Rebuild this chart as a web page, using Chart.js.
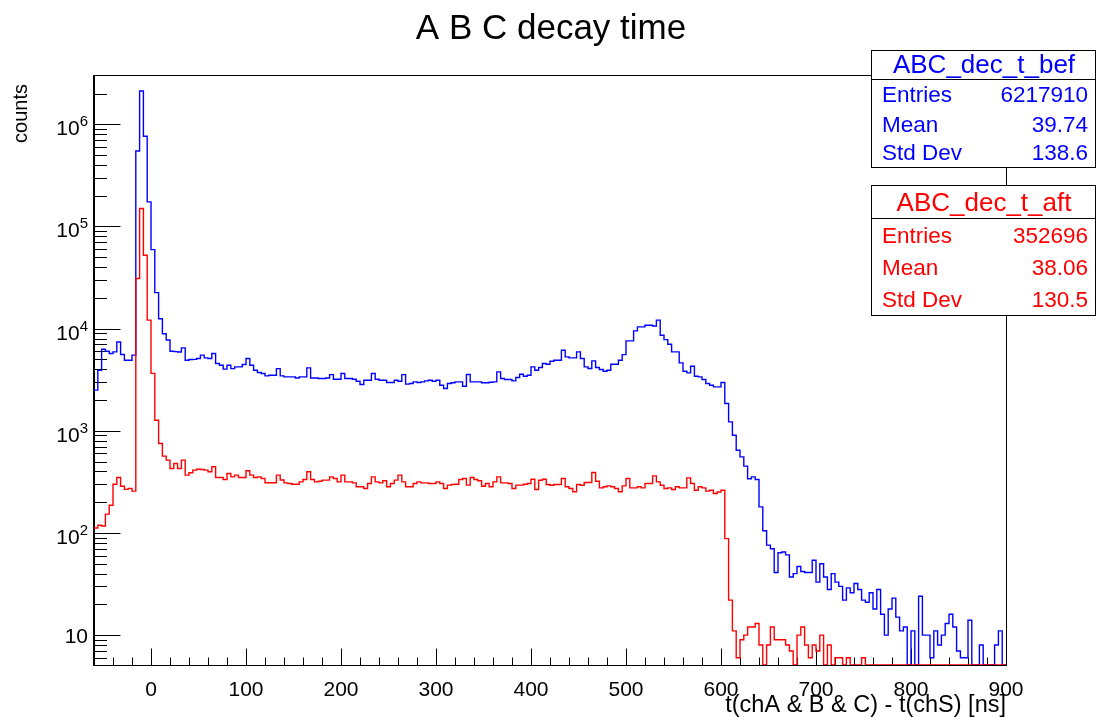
<!DOCTYPE html>
<html>
<head>
<meta charset="utf-8">
<script src="https://cdn.jsdelivr.net/npm/chart.js@4/dist/chart.umd.min.js"></script>
<style>
  html, body { margin: 0; padding: 0; background: #ffffff; }
  #plot { display: block; }
</style>
</head>
<body>
<canvas id="plot" width="1096" height="717" style="width:1096px;height:717px"></canvas>
<script>
// Histogram binning: 240 bins of 4 ns from -60 to 900 ns
const xMin = -60;
const xMax = 900;
const binWidth = 4;

// Log-scale y range of the frame
const yMin = 5.1;
const yMax = 2.97e6;

// Bin contents, "before" selection (blue)
const countsBefore = [
  2500, 3900, 6290, 6010, 5710, 5920, 7410, 5580, 4910, 4910,
  5500, 548000, 2120000, 763000, 174000, 59400, 22500, 12500, 8900, 7750,
  6000, 5950, 5900, 6480, 4900, 4980, 5000, 5100, 5500, 5170,
  5100, 5710, 4550, 4380, 4010, 4380, 4060, 4220, 4220, 4450,
  5100, 4380, 3920, 3720, 3640, 3445, 3500, 3500, 4060, 3445,
  3370, 3370, 3370, 3290, 3370, 3370, 4130, 3290, 3290, 3250,
  3250, 3290, 3550, 3200, 3200, 3640, 3250, 3250, 3200, 3055,
  2835, 3125, 3125, 3640, 3200, 3125, 3125, 2965, 2965, 3125,
  3055, 3550, 2860, 2900, 3015, 2970, 3015, 3080, 3125, 3050,
  3125, 2795, 2590, 2900, 2950, 3015, 3015, 2730, 3555, 3015,
  3015, 3015, 2950, 2950, 2990, 3015, 3775, 3245, 3175, 3175,
  3080, 3320, 3580, 3420, 3500, 4220, 3920, 4160, 4550, 4485,
  4800, 4910, 4910, 6150, 5290, 5170, 5170, 5920, 5100, 4220,
  4065, 4830, 4160, 3975, 3830, 3920, 4485, 4485, 4910, 5570,
  7590, 7590, 9510, 10400, 10400, 10800, 10800, 10600, 12100, 8620,
  7810, 7030, 5920, 5920, 4620, 3830, 3690, 4290, 3420, 3370,
  3180, 2900, 2790, 2690, 2690, 2970, 1848, 1222, 905, 646,
  556, 451, 339, 354, 334, 180, 105, 76, 70, 41,
  64, 65, 61, 37, 40, 47, 42, 41, 41, 54,
  33, 50, 37, 28, 40, 33, 30, 22, 29, 26,
  32, 28, 22, 21, 26, 18, 28, 16, 10, 18,
  23, 15, 11, 12, 0, 11, 0, 24, 10, 10,
  6, 11, 8, 10, 13, 16, 12, 7, 6, 6,
  14, 0, 0, 8, 0, 0, 0, 8, 11, 0
];

// Bin contents, "after" selection (red)
const countsAfter = [
  112, 119, 117, 153, 187, 300, 349, 287, 267, 273,
  257, 30900, 150000, 52300, 12100, 3650, 1270, 752, 565, 516,
  428, 479, 428, 516, 368, 388, 412, 421, 418, 412,
  397, 444, 349, 349, 334, 382, 354, 368, 349, 349,
  406, 368, 349, 354, 341, 310, 310, 310, 368, 330,
  309, 305, 300, 300, 316, 334, 397, 334, 316, 321,
  329, 329, 354, 341, 316, 368, 316, 316, 309, 283,
  283, 272, 305, 354, 316, 309, 324, 283, 305, 329,
  368, 316, 283, 283, 305, 316, 309, 309, 305, 305,
  316, 305, 272, 294, 298, 300, 334, 341, 294, 349,
  334, 324, 287, 305, 283, 316, 354, 309, 309, 305,
  272, 294, 294, 300, 305, 336, 266, 328, 336, 298,
  293, 298, 298, 341, 283, 272, 253, 298, 293, 312,
  312, 390, 321, 276, 283, 289, 283, 272, 253, 289,
  341, 276, 276, 283, 276, 305, 305, 362, 316, 293,
  272, 276, 266, 283, 276, 276, 346, 305, 262, 283,
  276, 257, 262, 243, 252, 262, 88, 22, 11, 6,
  9, 10, 12, 12, 13, 8, 0, 8, 12, 9,
  9, 9, 8, 7, 0, 10, 12, 8, 6, 8,
  7, 10, 0, 8, 0, 6, 6, 0, 6, 0,
  0, 0, 6, 0, 0, 0, 0, 0, 0, 0,
  0, 0, 0, 0, 0, 0, 0, 0, 0, 0,
  0, 0, 0, 0, 0, 0, 0, 0, 0, 0,
  0, 0, 0, 0, 0, 0, 0, 0, 0, 0
];

// Axis labelling
const xTickLabels = [0, 100, 200, 300, 400, 500, 600, 700, 800, 900];
const xMinorStep = 20;
const yDecadeExponents = [1, 2, 3, 4, 5, 6];

// Statistics boxes
const statRowNames = ['Entries', 'Mean', 'Std Dev'];
const statsBefore = ['6217910', '39.74', '138.6'];
const statsAfter = ['352696', '38.06', '130.5'];
const histNames = ['ABC_dec_t_bef', 'ABC_dec_t_aft'];

const chartTitle = 'A B C decay time';
const xTitle = 't(chA & B & C) - t(chS) [ns]';
const yTitle = 'counts';

const BLUE = '#0000ff';
const RED = '#ff0000';
const FONT = '"Liberation Sans", Arial, Helvetica, sans-serif';

// Step outline points: each bin's left edge carries its content, closed at the upper edge.
// Empty bins sit on the frame bottom, as in a log-y histogram outline.
function outline(counts) {
  const pts = counts.map((c, i) => ({ x: xMin + i * binWidth, y: Math.max(c, yMin) }));
  pts.push({ x: xMin + counts.length * binWidth, y: Math.max(counts[counts.length - 1], yMin) });
  return pts;
}

const frameAndAxes = {
  id: 'frameAndAxes',
  beforeDatasetsDraw(chart) {
    const { ctx, chartArea: a, scales: { x, y } } = chart;
    ctx.save();
    ctx.strokeStyle = '#000';
    ctx.lineWidth = 1;
    const L = a.left - 0.5, R = a.right + 0.5, T = a.top - 0.5, B = a.bottom + 0.5;
    ctx.strokeRect(L, T, R - L, B - T);
    // second pixel on the y axis line
    ctx.beginPath(); ctx.moveTo(L + 1, T); ctx.lineTo(L + 1, B); ctx.stroke();

    // x ticks, inside the frame
    ctx.beginPath();
    for (let v = xMin + xMinorStep; v <= xMax; v += xMinorStep) {
      const px = Math.round(x.getPixelForValue(v)) + 0.5;
      const len = (v % 100 === 0) ? 17 : 8;
      ctx.moveTo(px, B); ctx.lineTo(px, B - len);
    }
    ctx.stroke();

    // y ticks, log decades with 2..9 subdivisions
    ctx.beginPath();
    for (let k = 0; k <= 7; k++) {
      for (let m = 1; m <= 9; m++) {
        const v = m * Math.pow(10, k);
        if (v < yMin || v > yMax) continue;
        const py = Math.round(y.getPixelForValue(v)) + 0.5;
        const len = (m === 1) ? 27 : 13.5;
        ctx.moveTo(L, py); ctx.lineTo(L + len, py);
      }
    }
    ctx.stroke();
    ctx.restore();
  },
  afterDraw(chart) {
    const { ctx, chartArea: a, scales: { x, y } } = chart;
    ctx.save();
    ctx.fillStyle = '#000';

    // x tick labels
    ctx.font = '21px ' + FONT;
    ctx.textAlign = 'center';
    ctx.textBaseline = 'alphabetic';
    xTickLabels.forEach(v => {
      ctx.fillText(String(v), x.getPixelForValue(v), 696);
    });

    // y tick labels: 10 and 10^k
    const labelRight = 88;
    yDecadeExponents.forEach(k => {
      const py = y.getPixelForValue(Math.pow(10, k));
      ctx.textAlign = 'right';
      if (k === 1) {
        ctx.font = '21px ' + FONT;
        ctx.fillText('10', labelRight, py + 8);
      } else {
        ctx.font = '15px ' + FONT;
        const e = String(k);
        const w = ctx.measureText(e).width;
        ctx.fillText(e, labelRight, py + 2);
        ctx.font = '21px ' + FONT;
        ctx.fillText('10', labelRight - w, py + 11);
      }
    });

    // axis titles
    ctx.font = '23.5px ' + FONT;
    ctx.textAlign = 'right';
    ctx.fillText(xTitle, a.right, 712);
    ctx.save();
    ctx.translate(27, 84);
    ctx.rotate(-Math.PI / 2);
    ctx.font = '20px ' + FONT;
    ctx.textAlign = 'right';
    ctx.fillText(yTitle, 0, 0);
    ctx.restore();

    // main title
    ctx.font = '35px ' + FONT;
    ctx.textAlign = 'center';
    ctx.fillText(chartTitle, 551, 39);

    // statistics boxes
    const boxes = [
      { name: histNames[0], vals: statsBefore, color: BLUE, top: 50.5, sep: 79.5, bottom: 167.5, titleY: 73, rows: [102, 132, 160] },
      { name: histNames[1], vals: statsAfter, color: RED, top: 185.5, sep: 218.5, bottom: 315.5, titleY: 211, rows: [243, 275, 307] }
    ];
    const bl = 871.5, br = 1095.5;
    boxes.forEach(b => {
      ctx.fillStyle = '#fff';
      ctx.fillRect(bl, b.top, br - bl, b.bottom - b.top);
      ctx.strokeStyle = '#000';
      ctx.lineWidth = 1;
      ctx.strokeRect(bl, b.top, br - bl, b.bottom - b.top);
      ctx.beginPath(); ctx.moveTo(bl, b.sep); ctx.lineTo(br, b.sep); ctx.stroke();
      ctx.fillStyle = b.color;
      ctx.font = '26px ' + FONT;
      ctx.textAlign = 'center';
      ctx.fillText(b.name, 984, b.titleY);
      ctx.font = '22.5px ' + FONT;
      statRowNames.forEach((n, i) => {
        ctx.textAlign = 'left';
        ctx.fillText(n, 882, b.rows[i]);
        ctx.textAlign = 'right';
        ctx.fillText(b.vals[i], 1088, b.rows[i]);
      });
    });
    ctx.restore();
  }
};

new Chart(document.getElementById('plot').getContext('2d'), {
  type: 'line',
  data: {
    datasets: [
      {
        label: histNames[1],
        data: outline(countsAfter),
        borderColor: RED,
        borderWidth: 1.4,
        stepped: 'before',
        pointRadius: 0,
        fill: false,
        order: 0
      },
      {
        label: histNames[0],
        data: outline(countsBefore),
        borderColor: BLUE,
        borderWidth: 1.4,
        stepped: 'before',
        pointRadius: 0,
        fill: false,
        order: 1
      }
    ]
  },
  options: {
    responsive: false,
    animation: false,
    devicePixelRatio: 1,
    events: [],
    layout: { padding: { left: 94, right: 90, top: 76, bottom: 52 } },
    scales: {
      x: { type: 'linear', min: xMin, max: xMax, display: false },
      y: { type: 'logarithmic', min: yMin, max: yMax, display: false }
    },
    plugins: {
      legend: { display: false },
      tooltip: { enabled: false },
      title: { display: false }
    }
  },
  plugins: [frameAndAxes]
});
</script>
</body>
</html>
